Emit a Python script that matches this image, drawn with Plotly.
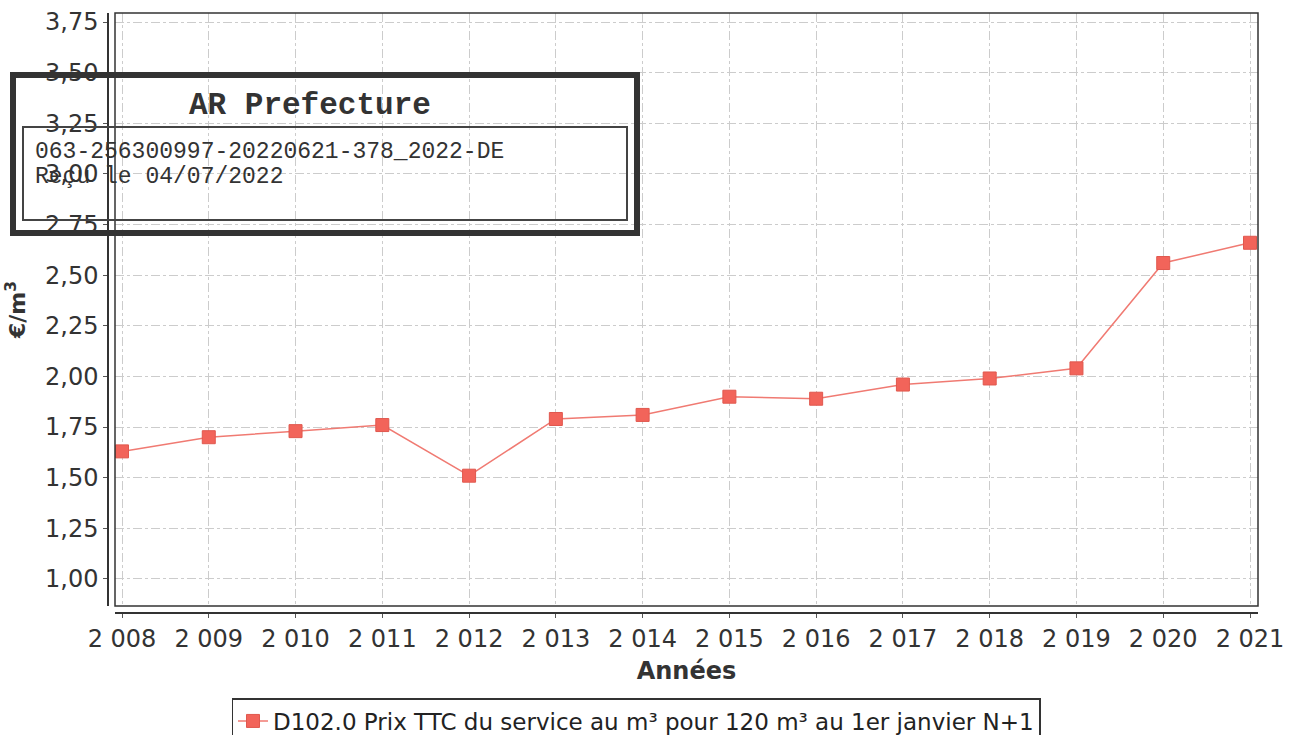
import plotly.graph_objects as go

years = [2008, 2009, 2010, 2011, 2012, 2013, 2014, 2015, 2016, 2017, 2018, 2019, 2020, 2021]
prices = [1.63, 1.70, 1.73, 1.76, 1.51, 1.79, 1.81, 1.90, 1.89, 1.96, 1.99, 2.04, 2.56, 2.66]
year_labels = ["2 008", "2 009", "2 010", "2 011", "2 012", "2 013", "2 014",
               "2 015", "2 016", "2 017", "2 018", "2 019", "2 020", "2 021"]
y_ticks = [1.00, 1.25, 1.50, 1.75, 2.00, 2.25, 2.50, 2.75, 3.00, 3.25, 3.50, 3.75]
series_name = "D102.0 Prix TTC du service au m³ pour 120 m³ au 1er janvier N+1"
stamp_title = "AR Prefecture"
stamp_line1 = "063-256300997-20220621-378_2022-DE"
stamp_line2 = "Reçu le 04/07/2022"

W, H = 1293, 735
L, R, T, B = 108, 35, 13, 122
pw, ph = W - L - R, H - T - B
xd0 = 7 / pw
yd0 = 7 / ph

fig = go.Figure()
fig.add_trace(go.Scatter(
    x=years, y=prices, mode="lines+markers", name=series_name,
    line=dict(color="#f07a72", width=1.5),
    marker=dict(symbol="square", size=13, color="#f2645a",
                line=dict(color="#e0584e", width=1)),
))

fnt = "DejaVu Sans"
fig.update_layout(
    width=W, height=H,
    margin=dict(l=L, r=R, t=T, b=B, pad=0, autoexpand=False),
    paper_bgcolor="white", plot_bgcolor="white",
    separators=", ",
    font=dict(family=fnt, color="#333333", size=22),
    showlegend=True,
    legend=dict(orientation="h", x=(636 - L) / pw, xanchor="center",
                y=(T + ph - 698) / ph, yanchor="top",
                bordercolor="#333333", borderwidth=1.5,
                font=dict(family=fnt, size=23, color="#222222"),
                bgcolor="white", itemwidth=30),
    xaxis=dict(
        domain=[xd0, 1], anchor="free", position=0, automargin=False,
        range=[2008 - 7 / 86.77, 2021 + 8 / 86.77],
        tickmode="array", tickvals=years, ticktext=year_labels,
        tickfont=dict(size=24, color="#333333"),
        showline=True, linecolor="#333333", linewidth=1.5,
        ticks="outside", ticklen=4, tickcolor="#555555",
        showgrid=True, gridcolor="#cccccc", griddash="dashdot", gridwidth=1,
        zeroline=False,
        title=dict(text="<b>Années</b>", font=dict(family=fnt, size=24, color="#333333"), standoff=10),
    ),
    yaxis=dict(
        domain=[yd0, 1], anchor="free", position=0, automargin=False,
        range=[1.00 - 27 / 202.5, 3.75 + 9 / 202.5],
        tickmode="array", tickvals=y_ticks, tickformat=".2f",
        tickfont=dict(size=24, color="#333333"),
        showline=True, linecolor="#333333", linewidth=1.5,
        ticks="outside", ticklen=4, tickcolor="#555555",
        showgrid=True, gridcolor="#cccccc", griddash="dashdot", gridwidth=1,
        zeroline=False,
        title=dict(text="<b>€/m<sup>3</sup></b>", font=dict(family=fnt, size=22, color="#333333"), standoff=12),
    ),
)

# plot frame
fig.add_shape(type="rect", xref="paper", yref="paper", x0=xd0, x1=1, y0=yd0, y1=1,
              line=dict(color="#333333", width=1.5), fillcolor="rgba(0,0,0,0)", layer="above")

# stamp boxes (pixel -> paper)
def px(x):
    return (x - L) / pw

def py(y):
    return (T + ph - y) / ph

fig.add_shape(type="rect", xref="paper", yref="paper",
              x0=px(13), x1=px(637), y0=py(233), y1=py(75),
              line=dict(color="#333333", width=6), fillcolor="rgba(0,0,0,0)", layer="above")
fig.add_shape(type="rect", xref="paper", yref="paper",
              x0=px(23), x1=px(627), y0=py(220), y1=py(127),
              line=dict(color="#444444", width=2), fillcolor="rgba(0,0,0,0)", layer="above")
fig.add_annotation(xref="paper", yref="paper", x=px(310), y=py(105), xanchor="center", yanchor="middle",
                   text="<b>" + stamp_title + "</b>", showarrow=False,
                   font=dict(family="Liberation Mono", size=31, color="#333333"))
fig.add_annotation(xref="paper", yref="paper", x=px(33), y=py(152), xanchor="left", yanchor="middle",
                   text=stamp_line1, showarrow=False,
                   font=dict(family="Liberation Mono", size=23, color="#333333"))
fig.add_annotation(xref="paper", yref="paper", x=px(33), y=py(177), xanchor="left", yanchor="middle",
                   text=stamp_line2, showarrow=False,
                   font=dict(family="Liberation Mono", size=23, color="#333333"))

fig.write_html("out.html", config={"displayModeBar": False},
               post_script="document.body.style.margin='0';document.body.style.overflow='hidden';")
